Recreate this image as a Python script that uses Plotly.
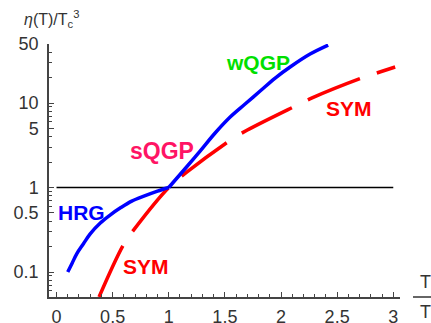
import math
import plotly.graph_objects as go

# ---- data ----
hrg_x = [0.10, 0.14, 0.18, 0.24, 0.30, 0.39, 0.48, 0.57, 0.67, 0.79, 0.90, 1.00]
hrg_y = [0.10, 0.128, 0.164, 0.216, 0.283, 0.38, 0.475, 0.575, 0.69, 0.80, 0.905, 1.00]

qgp_x = [1.00, 1.145, 1.279, 1.413, 1.547, 1.680, 1.814, 1.948, 2.081, 2.259, 2.42]
qgp_y = [1.00, 1.667, 2.70, 4.42, 6.83, 9.73, 13.87, 19.77, 26.7, 38.0, 48.5]

sym_x = [0.379, 0.60, 0.70, 1.00, 1.163, 1.564, 1.70, 2.126, 2.277, 2.72, 2.88, 3.017]
sym_y = [0.0506, 0.214, 0.33, 1.00, 1.53, 3.75, 4.79, 9.2, 11.5, 19.8, 23.3, 26.7]

ref_x = [0.0, 3.0]
ref_y = [1.0, 1.0]

x_ticks = [0, 0.5, 1, 1.5, 2, 2.5, 3]
x_tick_text = ["0", "0.5", "1", "1.5", "2", "2.5", "3"]
x_minor = [i / 10 for i in range(0, 31)]
y_ticks = [0.1, 0.5, 1, 5, 10, 50]
y_tick_text = ["0.1", "0.5", "1", "5", "10", "50"]
y_minor = [0.06, 0.07, 0.08, 0.09, 0.2, 0.3, 0.4, 0.6, 0.7, 0.8, 0.9,
           2, 3, 4, 6, 7, 8, 9, 20, 30, 40]

labels = [
    ("HRG", 0.225, 0.513, "#0000FF", 21),
    ("SYM", 0.80, 0.116, "#FF0000", 21),
    ("sQGP", 0.94, 2.70, "#FF1464", 23),
    ("wQGP", 1.795, 30.5, "#00E000", 21),
    ("SYM", 2.607, 8.73, "#FF0000", 21),
]

fig = go.Figure()
fig.add_trace(go.Scatter(x=ref_x, y=ref_y, mode="lines",
                         line=dict(color="#000000", width=1.3), hoverinfo="skip"))
fig.add_trace(go.Scatter(x=sym_x, y=sym_y, mode="lines",
                         line=dict(color="#FF0000", width=3.5, shape="spline",
                                   dash="56px,18px")))
fig.add_trace(go.Scatter(x=hrg_x, y=hrg_y, mode="lines",
                         line=dict(color="#0000FF", width=3.5, shape="spline")))
fig.add_trace(go.Scatter(x=qgp_x, y=qgp_y, mode="lines",
                         line=dict(color="#0000FF", width=3.5, shape="spline")))

for text, x, y, c, s in labels:
    fig.add_annotation(x=x, y=math.log10(y), xref="x", yref="y", text="<b>%s</b>" % text,
                       showarrow=False, font=dict(family="Liberation Sans", size=s, color=c))

# axis titles
fig.add_annotation(xref="paper", yref="paper", x=0.091, y=1.10, xanchor="right", yanchor="middle",
                   text="<i>η</i>(T)/T<sub>c</sub><sup>3</sup>", showarrow=False,
                   font=dict(family="Liberation Sans", size=16, color="#333333"))
fig.add_annotation(xref="paper", yref="paper", x=1.074, y=0.059, xanchor="center", yanchor="middle",
                   text="T", showarrow=False,
                   font=dict(family="Liberation Sans", size=18, color="#333333"))
fig.add_annotation(xref="paper", yref="paper", x=1.051, y=-0.067, xanchor="left", yanchor="middle",
                   text="T<sub>c</sub>", showarrow=False,
                   font=dict(family="Liberation Sans", size=18, color="#333333"))
fig.add_shape(type="line", xref="paper", yref="paper", x0=1.037, x1=1.25, y0=0, y1=0,
              line=dict(color="#333333", width=1.3))

fig.update_layout(
    width=431, height=323,
    margin=dict(l=49, r=31, t=44, b=26, autoexpand=False),
    paper_bgcolor="white", plot_bgcolor="white",
    showlegend=False,
    font=dict(family="Liberation Sans", size=18, color="#333333"),
    xaxis=dict(range=[-0.067, 3.06], showgrid=False, zeroline=False, automargin=False,
               showline=True, linecolor="#444444", linewidth=1.5,
               tickmode="array", tickvals=x_ticks, ticktext=x_tick_text,
               ticks="inside", ticklen=5, tickcolor="#444444", tickwidth=1,
               ticklabelstandoff=3,
               minor=dict(tickmode="array", tickvals=x_minor, ticks="inside", ticklen=3,
                          tickcolor="#444444", tickwidth=1, showgrid=False)),
    yaxis=dict(type="log", range=[-1.296, 1.699], showgrid=False, zeroline=False, automargin=False,
               showline=True, linecolor="#444444", linewidth=1.5,
               tickmode="array", tickvals=y_ticks, ticktext=y_tick_text,
               ticks="inside", ticklen=5, tickcolor="#444444", tickwidth=1,
               ticklabelstandoff=5,
               minor=dict(tickmode="array", tickvals=y_minor, ticks="inside", ticklen=3,
                          tickcolor="#444444", tickwidth=1, showgrid=False)),
)

fig.write_html("out.html")
